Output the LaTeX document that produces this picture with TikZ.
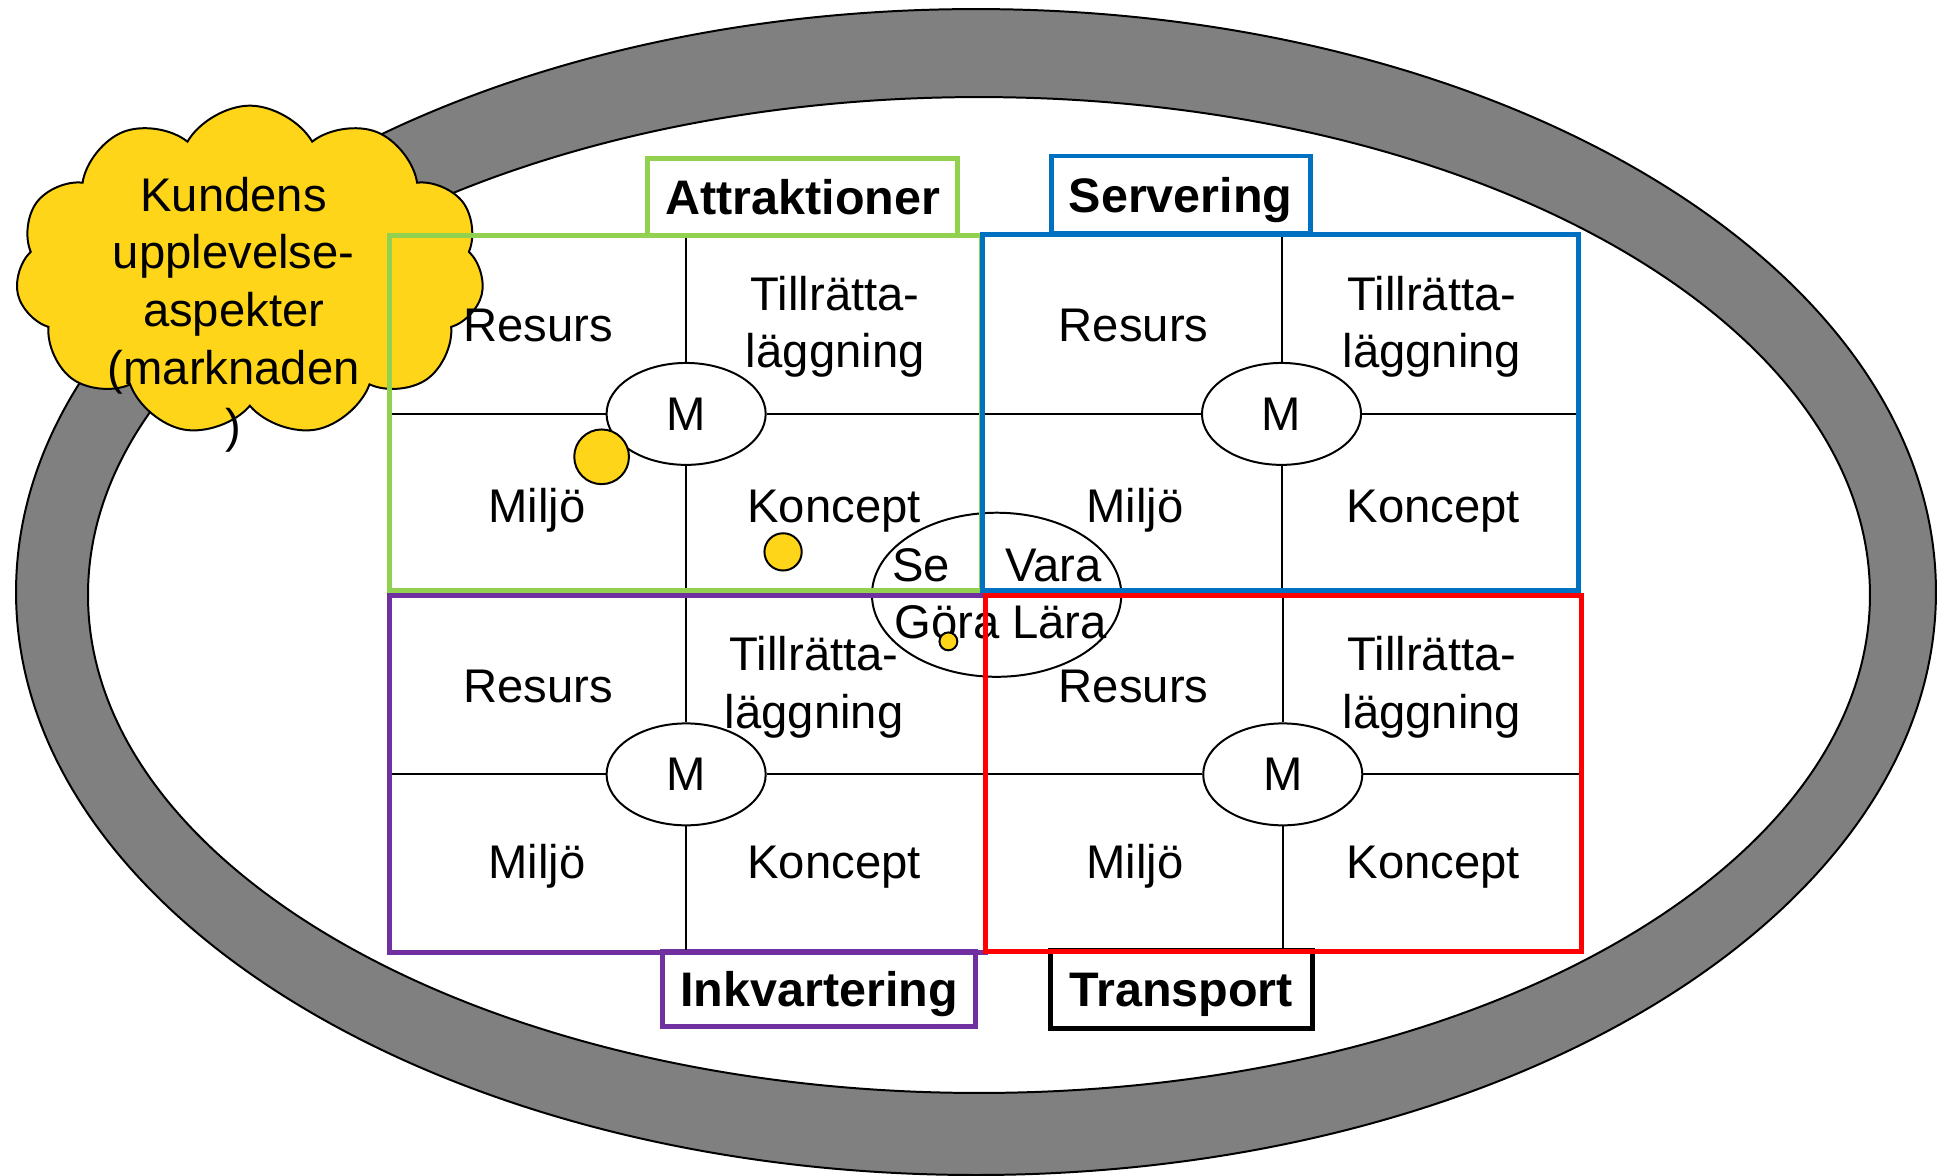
\documentclass[tikz,border=0pt]{standalone}
\usepackage{fontspec}
\setmainfont{Liberation Sans}
\usetikzlibrary{shapes.geometric,shapes.symbols}

\definecolor{ringgray}{RGB}{128,128,128}
\definecolor{cloudyellow}{RGB}{255,213,25}
\definecolor{attrgreen}{RGB}{146,208,80}
\definecolor{servblue}{RGB}{0,112,192}
\definecolor{inkvpurple}{RGB}{112,48,160}
\definecolor{transred}{RGB}{255,0,0}

\tikzset{
  quadframe/.style={draw=#1, line width=2pt, inner sep=0pt, outer sep=0pt},
  labelbox/.style={draw=#1, line width=2pt, fill=white, inner sep=0pt, outer sep=0pt,
    text height=14pt, text depth=0pt, font=\fontsize{19.5}{23}\selectfont\bfseries},
  mnode/.style={ellipse, draw, line width=0.8pt, fill=white, minimum width=64pt,
    minimum height=41pt, inner sep=0pt},
  celltext/.style={inner sep=0pt, anchor=base},
  twoline/.style={inner sep=0pt, align=center},
  yellowdot/.style={circle, draw, line width=0.8pt, fill=cloudyellow, inner sep=0pt,
    minimum size=#1},
  thinline/.style={line width=0.8pt, shorten >=1pt},
}

\begin{document}
\begin{tikzpicture}[x=0.5pt, y=-0.5pt, font=\fontsize{19}{23}\selectfont]
\useasboundingbox (0,0) rectangle (1568,946);

\draw[fill=ringgray, line width=0.8pt] (785.2,476.3) ellipse [x radius=772.3, y radius=469];
\draw[fill=white, line width=0.8pt] (787.6,478.7) ellipse [x radius=716.8, y radius=400.6];

\node[cloud, cloud puffs=11, cloud puff arc=120, aspect=1.42, draw, line width=0.8pt,
  fill=cloudyellow, minimum width=188.5pt, minimum height=133pt, inner sep=0pt] (wolk) at (201,218) {};
\node[twoline, font=\fontsize{19}{23.25}\selectfont] (kund) at (188,253)
  {Kundens\\upplevelse-\\aspekter\\(marknaden\\)};

\node[ellipse, draw, line width=0.8pt, fill=white, minimum width=100.3pt, minimum height=66pt,
  inner sep=0pt] (sgvl) at (801.8,478.5) {};
\node[celltext] (se) at (741,468) {Se};
\node[celltext] (vara) at (847.5,468) {Vara};
\node[celltext] (gora) at (805,514) {Göra Lära};

\node[labelbox=attrgreen, minimum width=124.8pt, minimum height=31.1pt] (attr) at (645.8,158.5) {Attraktioner};
\node[labelbox=servblue, minimum width=104.2pt, minimum height=31.25pt] (serv) at (949.8,156.75) {Servering};
\node[labelbox=inkvpurple, minimum width=126.15pt, minimum height=30.2pt] (inkv) at (658.9,795.8) {Inkvartering};
\node[labelbox=black, minimum width=105.35pt, minimum height=31.35pt] (trans) at (950.2,795.7) {Transport};

\node[quadframe=attrgreen, minimum width=238.5pt, minimum height=142.75pt] (fA) at (551.5,332.25) {};
\node[quadframe=servblue, minimum width=239.75pt, minimum height=143.25pt] (fS) at (1030.25,331.75) {};
\node[quadframe=inkvpurple, minimum width=239.5pt, minimum height=143.5pt] (fI) at (553,622.5) {};
\node[quadframe=transred, minimum width=239.5pt, minimum height=143.25pt] (fT) at (1032.5,622.25) {};

\node[mnode] (mA) at (552,333) {M};
\node[mnode] (mS) at (1031,333) {M};
\node[mnode] (mI) at (552,623) {M};
\node[mnode] (mT) at (1032,623) {M};

\draw[thinline] (mA.north) -- (mA.north |- fA.north);
\draw[thinline] (mA.south) -- (mA.south |- fA.south);
\draw[thinline] (mA.west) -- (mA.west -| fA.west);
\draw[thinline] (mA.east) -- (mA.east -| fA.east);
\draw[thinline] (mS.north) -- (mS.north |- fS.north);
\draw[thinline] (mS.south) -- (mS.south |- fS.south);
\draw[thinline] (mS.west) -- (mS.west -| fS.west);
\draw[thinline] (mS.east) -- (mS.east -| fS.east);
\draw[thinline] (mI.north) -- (mI.north |- fI.north);
\draw[thinline] (mI.south) -- (mI.south |- fI.south);
\draw[thinline] (mI.west) -- (mI.west -| fI.west);
\draw[thinline] (mI.east) -- (mI.east -| fI.east);
\draw[thinline] (mT.north) -- (mT.north |- fT.north);
\draw[thinline] (mT.south) -- (mT.south |- fT.south);
\draw[thinline] (mT.west) -- (mT.west -| fT.west);
\draw[thinline] (mT.east) -- (mT.east -| fT.east);

\node[celltext] (resA) at (433,275) {Resurs};
\node[twoline] (tilA) at (672,263) {Tillrätta-\\läggning};
\node[celltext] (milA) at (432,420) {Miljö};
\node[celltext] (konA) at (671,420) {Koncept};

\node[celltext] (resS) at (912,275) {Resurs};
\node[twoline] (tilS) at (1152,263) {Tillrätta-\\läggning};
\node[celltext] (milS) at (913,420) {Miljö};
\node[celltext] (konS) at (1153,420) {Koncept};

\node[celltext] (resI) at (433,565) {Resurs};
\node[twoline] (tilI) at (655,553) {Tillrätta-\\läggning};
\node[celltext] (milI) at (432,707) {Miljö};
\node[celltext] (konI) at (671,707) {Koncept};

\node[celltext] (resT) at (912,565) {Resurs};
\node[twoline] (tilT) at (1152,553) {Tillrätta-\\läggning};
\node[celltext] (milT) at (913,707) {Miljö};
\node[celltext] (konT) at (1153,707) {Koncept};

\node[yellowdot=22pt] (dot1) at (484,367.5) {};
\node[yellowdot=15pt] (dot2) at (630,444) {};
\node[yellowdot=7.2pt] (dot3) at (763,516) {};

\end{tikzpicture}
\end{document}
